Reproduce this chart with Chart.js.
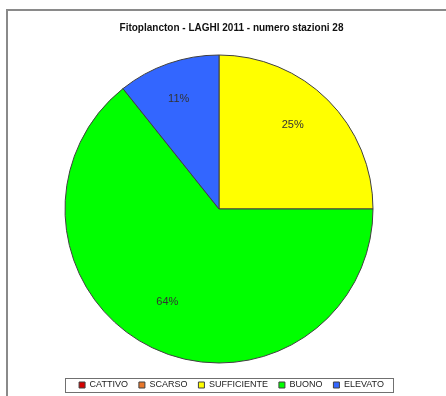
<!DOCTYPE html>
<html><head><meta charset="utf-8">
<script src="https://cdn.jsdelivr.net/npm/chart.js@4.4.0/dist/chart.umd.min.js"></script>
<style>
html,body{margin:0;padding:0;background:#fff;}
#wrap{position:relative;width:446px;height:396px;overflow:hidden;background:#fff;}
#frame{position:absolute;left:6px;top:9px;width:460px;height:400px;border-left:2px solid #8a8a8a;border-top:2px solid #8a8a8a;}
canvas{position:absolute;left:0;top:0;}
</style></head><body>
<div id="wrap"><div id="frame"></div><canvas id="c" width="446" height="396"></canvas></div>
<script>
const titleText = 'Fitoplancton - LAGHI 2011 - numero stazioni 28';
const categories = ['CATTIVO', 'SCARSO', 'SUFFICIENTE', 'BUONO', 'ELEVATO'];
const stationCounts = [0, 0, 7, 18, 3];
const sliceColors = ['#D40000', '#E8782C', '#FFFF00', '#00FF00', '#3366FF'];

const FONT = '"Liberation Sans", Arial, sans-serif';

const pctLabels = {
  id: 'pctLabels',
  afterDatasetsDraw(chart) {
    const meta = chart.getDatasetMeta(0);
    const data = chart.data.datasets[0].data;
    const total = data.reduce((a, b) => a + b, 0);
    const ctx = chart.ctx;
    ctx.save();
    ctx.font = '11px ' + FONT;
    ctx.fillStyle = '#333';
    ctx.textAlign = 'center';
    ctx.textBaseline = 'middle';
    meta.data.forEach((arc, i) => {
      if (!data[i]) return;
      const p = arc.getProps(['x', 'y', 'startAngle', 'endAngle', 'outerRadius'], true);
      const mid = (p.startAngle + p.endAngle) / 2;
      const d = p.outerRadius * 0.714;
      ctx.fillText(Math.round(data[i] / total * 100) + '%', p.x + Math.cos(mid) * d - 4, p.y + Math.sin(mid) * d - 6);
    });
    ctx.restore();
  }
};

const legendFrame = {
  id: 'legendFrame',
  afterDraw(chart) {
    const hb = chart.legend && chart.legend.legendHitBoxes;
    if (!hb || !hb.length) return;
    const first = hb[0], last = hb[hb.length - 1];
    const cy = first.top + first.height / 2;
    const ctx = chart.ctx;
    ctx.save();
    ctx.strokeStyle = '#707070';
    ctx.lineWidth = 1;
    const l = Math.round(first.left - 14) + 0.5;
    const r = Math.round(last.left + last.width + 9) + 0.5;
    const t = Math.round(cy - 7) + 0.5;
    ctx.strokeRect(l, t, r - l, 14);
    ctx.restore();
  }
};

new Chart(document.getElementById('c'), {
  type: 'pie',
  data: {
    labels: categories,
    datasets: [{
      data: stationCounts,
      backgroundColor: sliceColors,
      borderColor: '#404040',
      borderWidth: 1,
      radius: 154
    }]
  },
  options: {
    responsive: false,
    devicePixelRatio: 1,
    animation: false,
    layout: { padding: { left: 17, right: 0, top: 0, bottom: 0 } },
    scales: {
      spacer: {
        type: 'linear', position: 'right', display: true,
        ticks: { display: false }, grid: { display: false }, border: { display: false },
        afterFit(scale) { scale.width = 25; }
      }
    },
    plugins: {
      tooltip: { enabled: false },
      title: {
        display: true, text: titleText, color: '#111',
        font: { family: FONT, size: 10, weight: 'bold' },
        padding: { top: 22.5, bottom: 14 }
      },
      legend: {
        display: true, position: 'bottom', maxHeight: 26.5,
        labels: {
          boxWidth: 6, boxHeight: 6, padding: 11, color: '#222',
          font: { family: FONT, size: 9 }
        }
      }
    }
  },
  plugins: [pctLabels, legendFrame]
});
</script>
</body></html>
